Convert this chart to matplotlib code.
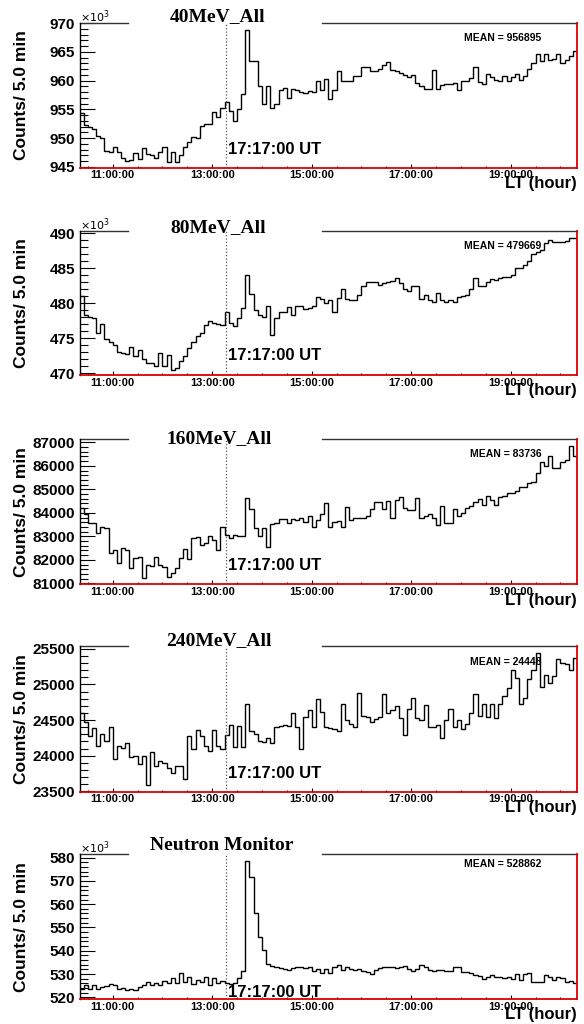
import numpy as np
import matplotlib
matplotlib.use('Agg')
import matplotlib.pyplot as plt
from matplotlib.ticker import FixedLocator, MultipleLocator

plt.rcParams['font.family'] = ['Liberation Sans', 'DejaVu Sans']

# ---- data (5-min bins starting 10:20 LT) ----
bin_start_lt = 10 + 20 / 60
bin_minutes = 5
xlim_lt = (10 + 20 / 60, 20 + 20 / 60)
event_lt = 13 + 17 / 60
event_label = '17:17:00 UT'

major_hours = [11, 13, 15, 17, 19]
major_labels = ['11:00:00', '13:00:00', '15:00:00', '17:00:00', '19:00:00']

titles = ['40MeV_All', '80MeV_All', '160MeV_All', '240MeV_All', 'Neutron Monitor']
means = [956895, 479669, 83736, 24448, 528862]

# counts in units of 10^3
e40 = [954.3, 952.2, 952.0, 951.6, 950.4, 950.0, 947.8, 947.5, 948.4, 947.6,
       946.6, 946.0, 946.2, 947.4, 946.3, 948.2, 947.3, 947.0, 946.5, 947.5,
       948.4, 945.9, 947.6, 945.9, 947.0, 948.4, 949.3, 950.1, 950.0, 952.1,
       952.4, 952.4, 954.6, 953.7, 955.3, 956.2, 954.7, 953.0, 955.1, 957.6,
       968.8, 963.4, 963.4, 959.0, 956.0, 959.0, 955.2, 956.0, 958.4, 958.8,
       957.0, 958.6, 958.3, 958.1, 957.8, 958.2, 958.0, 960.0, 958.4, 960.3,
       956.8, 958.4, 961.6, 960.0, 960.0, 960.0, 960.8, 960.8, 962.4, 962.4,
       961.6, 961.6, 962.0, 962.7, 963.2, 961.8, 961.6, 961.4, 961.0, 960.7,
       961.0, 959.6, 959.1, 958.6, 958.6, 961.9, 958.6, 959.2, 959.5, 959.5,
       959.6, 958.4, 960.0, 960.0, 960.4, 962.4, 959.8, 959.4, 961.2, 960.6,
       960.2, 960.0, 960.8, 959.9, 960.6, 961.2, 960.1, 960.8, 962.0, 963.0,
       964.6, 963.5, 964.6, 963.6, 963.7, 964.6, 963.0, 963.6, 964.3, 965.2]

e80 = [481.0, 478.3, 478.1, 477.9, 475.8, 477.1, 474.9, 474.5, 474.0, 473.1,
       472.9, 472.8, 473.8, 472.5, 473.3, 472.0, 471.4, 471.5, 471.0, 472.9,
       471.1, 472.6, 470.5, 470.7, 471.7, 472.4, 473.6, 474.5, 475.3, 475.8,
       476.9, 477.5, 477.2, 477.1, 476.9, 478.7, 477.2, 476.7, 477.9, 479.3,
       484.0, 481.3, 479.0, 478.3, 478.0, 479.6, 475.5, 477.9, 478.7, 478.7,
       479.5, 478.3, 479.6, 479.6, 479.2, 479.3, 479.6, 480.9, 480.6, 480.0,
       480.5, 478.8, 480.7, 482.0, 480.6, 480.5, 480.4, 481.2, 482.5, 483.1,
       483.1, 483.1, 482.6, 482.9, 483.1, 483.2, 483.6, 482.9, 482.0, 481.7,
       482.5, 482.5, 480.6, 481.2, 480.5, 480.2, 481.4, 480.5, 480.2, 480.5,
       480.2, 480.9, 481.0, 481.2, 482.1, 483.6, 482.5, 482.5, 483.1, 483.4,
       483.3, 483.6, 483.7, 483.8, 484.0, 485.0, 485.0, 485.5, 486.1, 487.1,
       487.4, 487.6, 488.6, 489.0, 488.7, 488.8, 488.7, 488.9, 489.3, 489.4]

e160 = [84200, 83950, 83580, 83580, 83160, 83400, 83340, 82280, 82420, 81880,
        82490, 82420, 81640, 82060, 82130, 81210, 81780, 81750, 82130, 81760,
        81700, 81250, 81450, 81640, 82060, 82450, 82030, 82920, 82990, 82630,
        82700, 83010, 82830, 82420, 83410, 83050, 82930, 83050, 83010, 83000,
        84650, 84150, 83340, 83010, 83340, 82530, 83520, 83550, 83720, 83720,
        83580, 83750, 83680, 83760, 83620, 83870, 83410, 83690, 83950, 84430,
        83410, 83620, 83660, 83410, 84230, 83690, 83800, 83800, 83800, 83860,
        84150, 84480, 84440, 84150, 84520, 83770, 84550, 84660, 84190, 84120,
        84120, 84620, 83770, 83870, 83950, 83800, 83480, 84290, 83550, 83550,
        84150, 83870, 84010, 84190, 84290, 84480, 84580, 84340, 84720, 84550,
        84340, 84660, 84720, 84850, 84850, 84920, 85100, 85100, 85280, 85300,
        85710, 86180, 86000, 86420, 85890, 85890, 86180, 86270, 86840, 86400]

e240 = [24600, 24480, 24280, 24390, 24140, 24310, 24210, 24400, 23960, 24140,
        24110, 24180, 23980, 24000, 23890, 23990, 23590, 24050, 23850, 23930,
        23900, 23830, 23760, 23850, 23850, 23670, 24280, 24090, 24360, 24280,
        24140, 24060, 24360, 24140, 24090, 24290, 24430, 24120, 24420, 24120,
        24720, 24340, 24310, 24200, 24190, 24250, 24180, 24410, 24420, 24430,
        24420, 24600, 24400, 24090, 24540, 24640, 24400, 24790, 24620, 24410,
        24390, 24380, 24350, 24720, 24500, 24440, 24400, 24880, 24560, 24550,
        24480, 24510, 24550, 24860, 24600, 24640, 24700, 24530, 24290, 24650,
        24810, 24530, 24500, 24710, 24400, 24410, 24430, 24250, 24500, 24650,
        24400, 24500, 24370, 24450, 24600, 24860, 24560, 24720, 24550, 24720,
        24530, 24730, 24840, 24950, 25200, 25090, 24720, 24810, 25070, 25200,
        25440, 24960, 25130, 25020, 25120, 25360, 25300, 25290, 25200, 25370]

# counts in units of 10^3
neutron = [523.5, 525.3, 523.4, 525.3, 523.8, 524.3, 524.8, 525.7, 525.3, 523.8,
           524.2, 523.1, 523.8, 523.1, 524.5, 525.3, 526.7, 525.3, 526.3, 525.3,
           527.1, 526.0, 528.1, 526.0, 530.3, 526.7, 528.9, 525.7, 527.4, 526.7,
           528.9, 525.3, 528.1, 526.3, 527.1, 526.0, 525.7, 526.3, 528.1, 531.4,
           578.6, 571.8, 556.4, 546.0, 540.3, 534.3, 533.4, 533.1, 532.4, 532.3,
           531.7, 532.4, 533.1, 532.9, 532.4, 532.9, 531.4, 532.0, 530.6, 532.0,
           530.3, 533.2, 533.9, 531.7, 532.9, 532.0, 531.7, 532.0, 531.4, 531.0,
           530.0, 531.7, 532.4, 532.9, 533.2, 533.2, 532.4, 532.9, 533.5, 532.0,
           531.4, 532.0, 533.9, 532.9, 531.7, 531.4, 531.7, 531.7, 531.4, 531.4,
           533.2, 533.2, 531.0, 531.0, 530.3, 529.6, 529.1, 527.7, 528.9, 529.6,
           528.9, 528.9, 528.1, 528.9, 527.7, 530.0, 527.4, 530.0, 530.3, 526.7,
           526.7, 526.7, 529.6, 528.9, 527.4, 528.9, 528.1, 526.7, 527.1, 526.3]

series = [e40, e80, e160, e240, neutron]
scaled = [True, True, False, False, True]
ylims = [(944.83, 970.1), (469.75, 490.33), (80970, 87130), (23495, 25540), (519.3, 581.4)]
y_major = [5, 5, 1000, 500, 10]
y_minor = [1, 1, 200, 100, 2]

# ---- layout in pixels ----
FW, FH = 584, 1024
AX_L, AX_R = 79.5, 577
tops = [22.7, 231, 439.3, 646, 854.3]
bottoms = [167.7, 375, 584, 791.7, 999]
title_base = [20.7, 232.3, 442.7, 645, 850]
title_x = [218, 218, 219, 219, 222]
mean_dy = [15, 15, 15, 15.7, 10]
event_dy = [18.7, 19, 19, 18.7, 6.3]
gap = ((128 - AX_L) / (AX_R - AX_L), (322 - AX_L) / (AX_R - AX_L))

fig = plt.figure(figsize=(FW / 100, FH / 100), dpi=100)


def fx(x):
    return x / FW


def fy(y):
    return 1 - y / FH


for i, vals in enumerate(series):
    top, bot = tops[i], bottoms[i]
    ax = fig.add_axes([fx(AX_L), fy(bot), (AX_R - AX_L) / FW, (bot - top) / FH])
    edges = bin_start_lt + np.arange(len(vals) + 1) * bin_minutes / 60
    ax.stairs(vals, edges, baseline=None, color='black', lw=1.0)
    ax.set_xlim(*xlim_lt)
    ax.set_ylim(*ylims[i])

    ax.axvline(event_lt, color='#555555', ls=':', lw=0.9)

    # frame: black left, red bottom/right, broken top line
    ax.spines['top'].set_visible(False)
    ax.spines['left'].set_color('black')
    ax.spines['left'].set_linewidth(1.0)
    for s in ('bottom', 'right'):
        ax.spines[s].set_color('#dd0000')
        ax.spines[s].set_linewidth(1.3)
    ax.plot([0, gap[0]], [1, 1], transform=ax.transAxes, color='#333333', lw=1.0, clip_on=False)
    ax.plot([gap[1], 1], [1, 1], transform=ax.transAxes, color='#333333', lw=1.0, clip_on=False)

    ax.xaxis.set_major_locator(FixedLocator(major_hours))
    ax.set_xticklabels(major_labels)
    ax.xaxis.set_minor_locator(MultipleLocator(0.5))
    ax.yaxis.set_major_locator(MultipleLocator(y_major[i]))
    ax.yaxis.set_minor_locator(MultipleLocator(y_minor[i]))
    ax.tick_params(axis='x', which='major', direction='in', length=3.2, width=0.8,
                   labelsize=8, pad=2)
    ax.tick_params(axis='x', which='minor', direction='in', length=1.6, width=0.8)
    ax.tick_params(axis='y', which='major', direction='in', length=10.8, width=0.8,
                   labelsize=11, pad=3)
    ax.tick_params(axis='y', which='minor', direction='in', length=5.4, width=0.8)
    for lab in ax.get_xticklabels() + ax.get_yticklabels():
        lab.set_fontweight('bold')

    # texts
    fig.text(fx(title_x[i]), fy(title_base[i]), titles[i], ha='center', va='baseline',
             family=['Liberation Serif', 'DejaVu Serif'], fontweight='bold', fontsize=14)
    if scaled[i]:
        fig.text(fx(AX_L), fy(top - 1.5), r'$\times10^{3}$', ha='left', va='baseline',
                 fontsize=8)
    fig.text(fx(541.7), fy(top + mean_dy[i]), f'MEAN = {means[i]}', ha='right',
             va='center', fontweight='bold', fontsize=7.5)
    fig.text(fx(228), fy(bot - event_dy[i]), event_label, ha='left', va='center',
             fontweight='bold', fontsize=12)
    fig.text(fx(22), fy((top + bot) / 2), 'Counts/ 5.0 min', rotation=90, ha='center',
             va='center', fontweight='bold', fontsize=12.5)
    fig.text(fx(576.5), fy(bot + 16), 'LT (hour)', ha='right', va='center',
             fontweight='bold', fontsize=12)

fig.savefig('out.png', dpi=100)
